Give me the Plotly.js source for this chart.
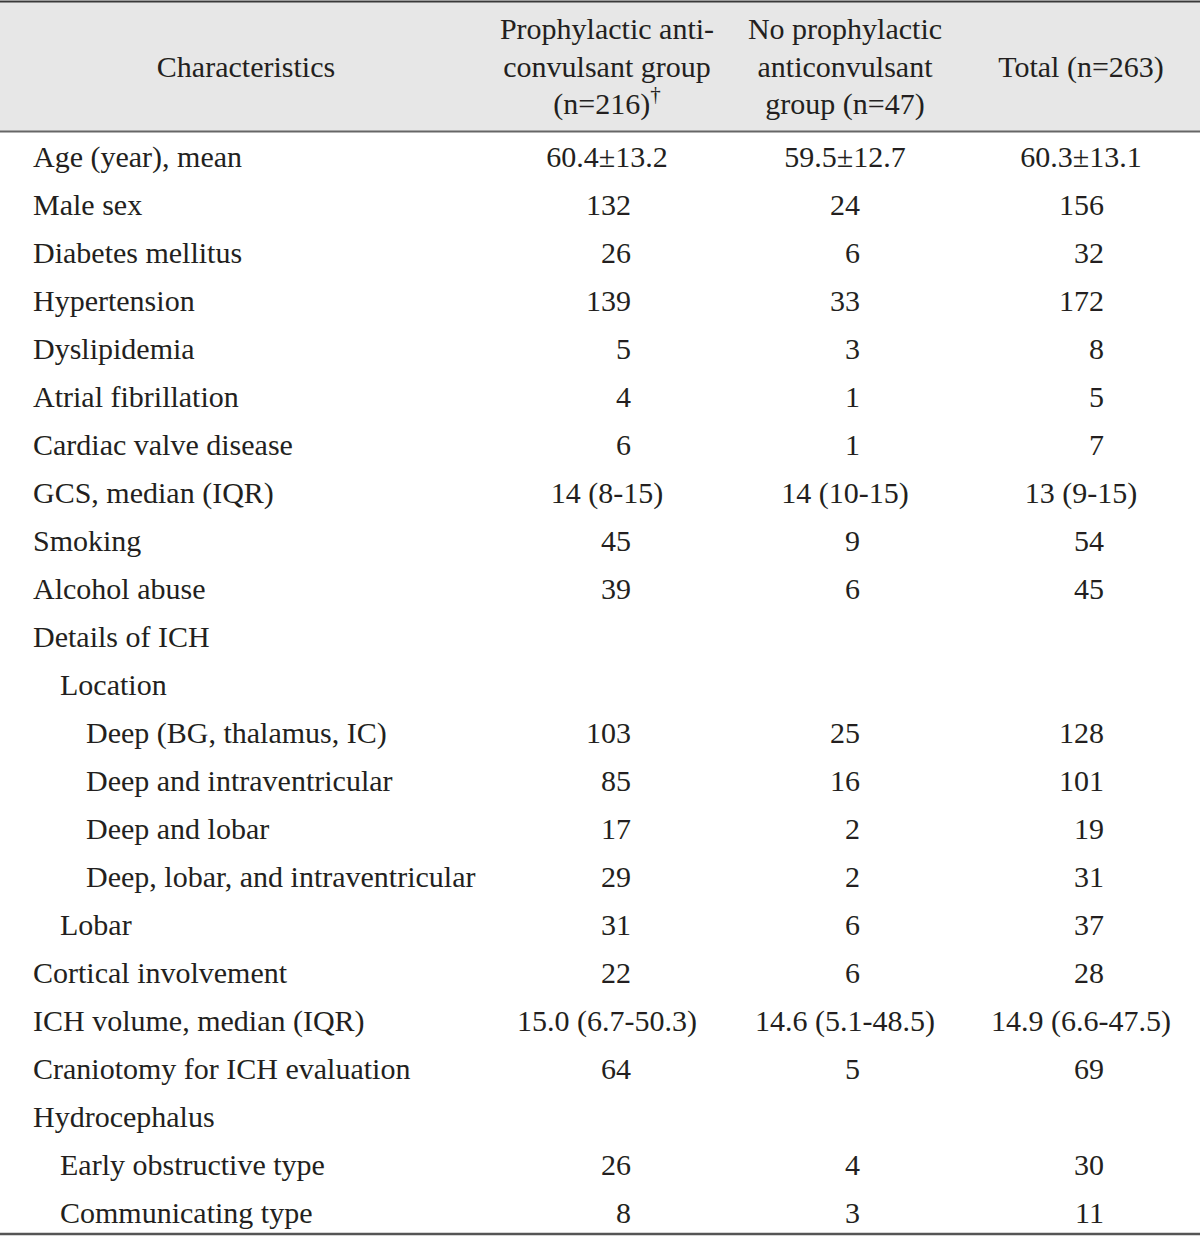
<!DOCTYPE html>
<html>
<head>
<meta charset="utf-8">
<script src="https://cdn.plot.ly/plotly-3.0.1.min.js"></script>
<style>html,body{margin:0;padding:0;background:#fff;}#chart{width:1200px;height:1237px;}</style>
</head>
<body>
<div id="chart"></div>
<script>
// ---- data ----
var headers = [
  ["Characteristics"],
  ["Prophylactic anti-", "convulsant group", "(n=216)<sup>†</sup>"],
  ["No prophylactic", "anticonvulsant", "group (n=47)"],
  ["Total (n=263)"]
];
var characteristics = [
  "Age (year), mean", "Male sex", "Diabetes mellitus", "Hypertension", "Dyslipidemia",
  "Atrial fibrillation", "Cardiac valve disease", "GCS, median (IQR)", "Smoking", "Alcohol abuse",
  "Details of ICH", "Location", "Deep (BG, thalamus, IC)", "Deep and intraventricular",
  "Deep and lobar", "Deep, lobar, and intraventricular", "Lobar", "Cortical involvement",
  "ICH volume, median (IQR)", "Craniotomy for ICH evaluation", "Hydrocephalus",
  "Early obstructive type", "Communicating type"
];
var indentLevel = [0,0,0,0,0,0,0,0,0,0,0,1,2,2,2,2,1,0,0,0,0,1,1];
var prophylactic = ["60.4±13.2","132","26","139","5","4","6","14 (8-15)","45","39",
  "","","103","85","17","29","31","22","15.0 (6.7-50.3)","64","","26","8"];
var noProphylactic = ["59.5±12.7","24","6","33","3","1","1","14 (10-15)","9","6",
  "","","25","16","2","2","6","6","14.6 (5.1-48.5)","5","","4","3"];
var total = ["60.3±13.1","156","32","172","8","5","7","13 (9-15)","54","45",
  "","","128","101","19","31","37","28","14.9 (6.6-47.5)","69","","30","11"];

// ---- layout config ----
var W = 1200, H = 1237;
var FONT = "Liberation Serif, Times New Roman, serif";
var FS = 30, COLOR = "#231f20";
var rowTop = 135, rowH = 48;
var labelX = [33, 60, 86];
var colCenter = [246, 607, 845, 1081];
var colRight = [null, 631, 860, 1104];
var headerLineY = [31, 69, 106];

function px2row(y){ return (y - (rowTop + rowH/2)) / rowH; }

var traces = [];
function textTrace(xs, ys, texts, pos){
  if(!texts.length) return;
  traces.push({type:"scatter", mode:"text", x:xs, y:ys, text:texts, textposition:pos,
    textfont:{family:FONT, size:FS, color:COLOR}, hoverinfo:"skip", showlegend:false, cliponaxis:false});
}

// header
headers.forEach(function(lines, c){
  var ys = lines.length === 1 ? [headerLineY[1]] : headerLineY;
  textTrace(lines.map(function(){return colCenter[c];}), ys.map(px2row), lines, "middle center");
});

// labels
[0,1,2].forEach(function(lv){
  var xs=[], ys=[], ts=[];
  characteristics.forEach(function(t,i){ if(indentLevel[i]===lv){ xs.push(labelX[lv]); ys.push(i); ts.push(t);} });
  textTrace(xs, ys, ts, "middle right");
});

// values
[prophylactic, noProphylactic, total].forEach(function(col, k){
  var c = k+1;
  var cx=[], cy=[], ct=[], rx=[], ry=[], rt=[];
  col.forEach(function(v,i){
    if(v==="") return;
    if(/^\d+$/.test(v)){ rx.push(colRight[c]); ry.push(i); rt.push(v); }
    else { cx.push(colCenter[c]); cy.push(i); ct.push(v); }
  });
  textTrace(cx, cy, ct, "middle center");
  textTrace(rx, ry, rt, "middle left");
});

var layout = {
  width: W, height: H,
  margin: {l:0, r:0, t:0, b:0},
  paper_bgcolor: "#fff", plot_bgcolor: "#fff",
  xaxis: {range:[0, W], visible:false, fixedrange:true},
  yaxis: {range:[px2row(H), px2row(0)], visible:false, fixedrange:true},
  shapes: [
    {type:"rect", xref:"paper", yref:"paper", x0:0, x1:1, y0:1-131/H, y1:1-2/H, fillcolor:"#e7e7e7", line:{width:0}, layer:"below"},
    {type:"line", xref:"paper", yref:"paper", x0:0, x1:1, y0:1-1.5/H, y1:1-1.5/H, line:{color:"#3a3a3a", width:2}},
    {type:"line", xref:"paper", yref:"paper", x0:0, x1:1, y0:1-131.5/H, y1:1-131.5/H, line:{color:"#666", width:2}},
    {type:"line", xref:"paper", yref:"paper", x0:0, x1:1, y0:1-1234/H, y1:1-1234/H, line:{color:"#555", width:2.5}}
  ],
  showlegend:false
};

Plotly.newPlot("chart", traces, layout, {staticPlot:true, displayModeBar:false});
</script>
</body>
</html>
